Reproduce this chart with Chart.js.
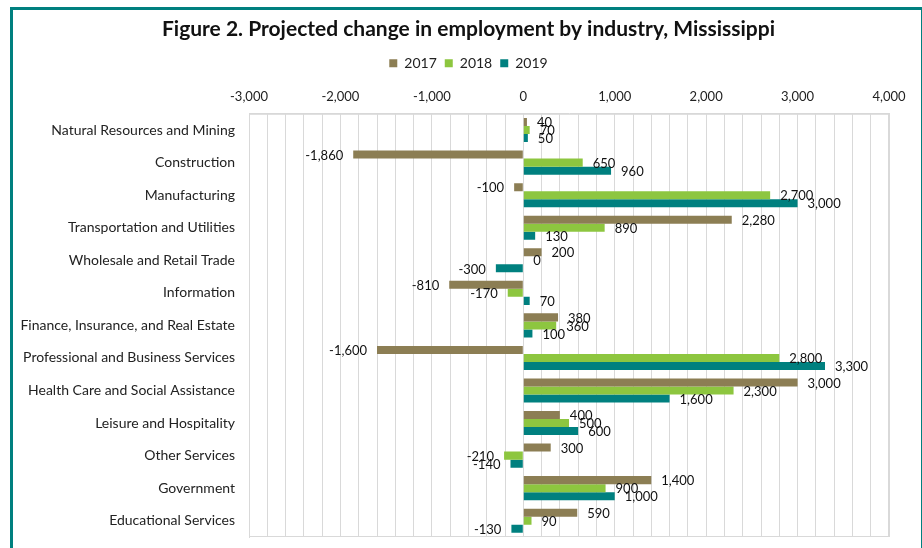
<!DOCTYPE html>
<html>
<head>
<meta charset="utf-8">
<script src="https://cdn.jsdelivr.net/npm/chart.js@4.4.1/dist/chart.umd.min.js"></script>
<style>
  html, body { margin: 0; padding: 0; background: #fff; overflow: hidden; }
  #wrap { position: absolute; left: 0; top: 0; width: 922px; height: 548px; overflow: hidden; }
  #frame {
    position: absolute; left: 10px; top: 7px; width: 908px; height: 560px;
    border-left: 3px solid #00807f; border-top: 3px solid #00807f; border-right: 1px solid #00807f;
  }
  canvas { position: absolute; left: 0; top: 0; }
</style>
</head>
<body>
<div id="wrap">
  <div id="frame"></div>
  <canvas id="chart" width="922" height="548"></canvas>
</div>
<script>
// categories and series
const industries = [
  'Natural Resources and Mining',
  'Construction',
  'Manufacturing',
  'Transportation and Utilities',
  'Wholesale and Retail Trade',
  'Information',
  'Finance, Insurance, and Real Estate',
  'Professional and Business Services',
  'Health Care and Social Assistance',
  'Leisure and Hospitality',
  'Other Services',
  'Government',
  'Educational Services'
];
const years = ['2017', '2018', '2019'];
const values2017 = [40, -1860, -100, 2280, 200, -810, 380, -1600, 3000, 400, 300, 1400, 590];
const values2018 = [70, 650, 2700, 890, 0, -170, 360, 2800, 2300, 500, -210, 900, 90];
const values2019 = [50, 960, 3000, 130, -300, 70, 100, 3300, 1600, 600, -140, 1000, -130];
const xTicks = [-3000, -2000, -1000, 0, 1000, 2000, 3000, 4000];

const colors = ['#8c7e54', '#8dc63f', '#00807f'];
const fontFamily = 'Lato, "Open Sans", sans-serif';

// draws the value next to each bar end (like excel "outside end")
const barLabels = {
  id: 'barLabels',
  afterDatasetsDraw(chart) {
    const ctx = chart.ctx;
    ctx.save();
    ctx.font = '13px ' + fontFamily;
    ctx.fillStyle = '#111';
    ctx.textBaseline = 'middle';
    chart.data.datasets.forEach((ds, i) => {
      const meta = chart.getDatasetMeta(i);
      meta.data.forEach((bar, j) => {
        const v = ds.data[j];
        const txt = v.toLocaleString('en-US');
        if (v < 0) {
          ctx.textAlign = 'right';
          ctx.fillText(txt, bar.x - 10, bar.y + 1);
        } else {
          ctx.textAlign = 'left';
          ctx.fillText(txt, bar.x + 10, bar.y + 1);
        }
      });
    });
    ctx.restore();
  }
};

// title + legend are centred a bit right of the canvas middle in the original
const shiftHeader = {
  id: 'shiftHeader',
  afterLayout(chart) {
    const dx = 17;
    [chart.titleBlock, chart.legend].forEach(b => {
      if (b) { b.left += dx; b.right += dx; }
    });
  }
};

const frameBox = {
  id: 'frameBox',
  afterDraw(chart) {
    const a = chart.chartArea, c = chart.ctx;
    c.save();
    c.strokeStyle = '#d9d9d9';
    c.lineWidth = 1;
    c.strokeRect(a.left + 0.5, a.top + 0.5, a.right - a.left - 1, a.bottom - a.top - 1);
    c.restore();
  }
};

const ctx = document.getElementById('chart').getContext('2d');
const chart = new Chart(ctx, {
  type: 'bar',
  data: {
    labels: industries,
    datasets: [
      { label: years[0], data: values2017, backgroundColor: colors[0] },
      { label: years[1], data: values2018, backgroundColor: colors[1] },
      { label: years[2], data: values2019, backgroundColor: colors[2] }
    ]
  },
  options: {
    indexAxis: 'y',
    responsive: false,
    animation: false,
    devicePixelRatio: 1,
    layout: { padding: { left: 14, right: 33, top: 0, bottom: 11 } },
    datasets: { bar: { categoryPercentage: 0.74, barPercentage: 1.0 } },
    plugins: {
      title: {
        display: true,
        text: 'Figure 2. Projected change in employment by industry, Mississippi',
        color: '#111',
        font: { family: fontFamily, size: 21, weight: 'bold' },
        padding: { top: 17, bottom: 6 }
      },
      legend: {
        display: true,
        labels: {
          boxWidth: 8, boxHeight: 8,
          color: '#222',
          font: { family: fontFamily, size: 14 },
          padding: 8
        }
      },
      tooltip: { enabled: false }
    },
    scales: {
      x: {
        position: 'top',
        min: -3000, max: 4000,
        afterBuildTicks(scale) {
          const t = [];
          for (let v = -3000; v <= 4000; v += 200) t.push({ value: v });
          scale.ticks = t;
        },
        ticks: {
          autoSkip: false,
          maxRotation: 0,
          padding: 9,
          color: '#222',
          font: { family: fontFamily, size: 13 },
          callback: (v) => xTicks.includes(v) ? v.toLocaleString('en-US') : ''
        },
        grid: { color: '#d9d9d9', drawTicks: false },
        border: { display: true, color: '#d9d9d9' }
      },
      y: {
        ticks: {
          padding: 14,
          color: '#222',
          font: { family: fontFamily, size: 14 }
        },
        afterFit(scale) {
          scale.width = 235;
          scale.paddingTop = 0;
          scale.paddingBottom = 0;
        },
        grid: { display: false, drawTicks: false },
        border: { display: true, color: '#d9d9d9' }
      }
    }
  },
  plugins: [barLabels, shiftHeader, frameBox]
});
</script>
</body>
</html>
